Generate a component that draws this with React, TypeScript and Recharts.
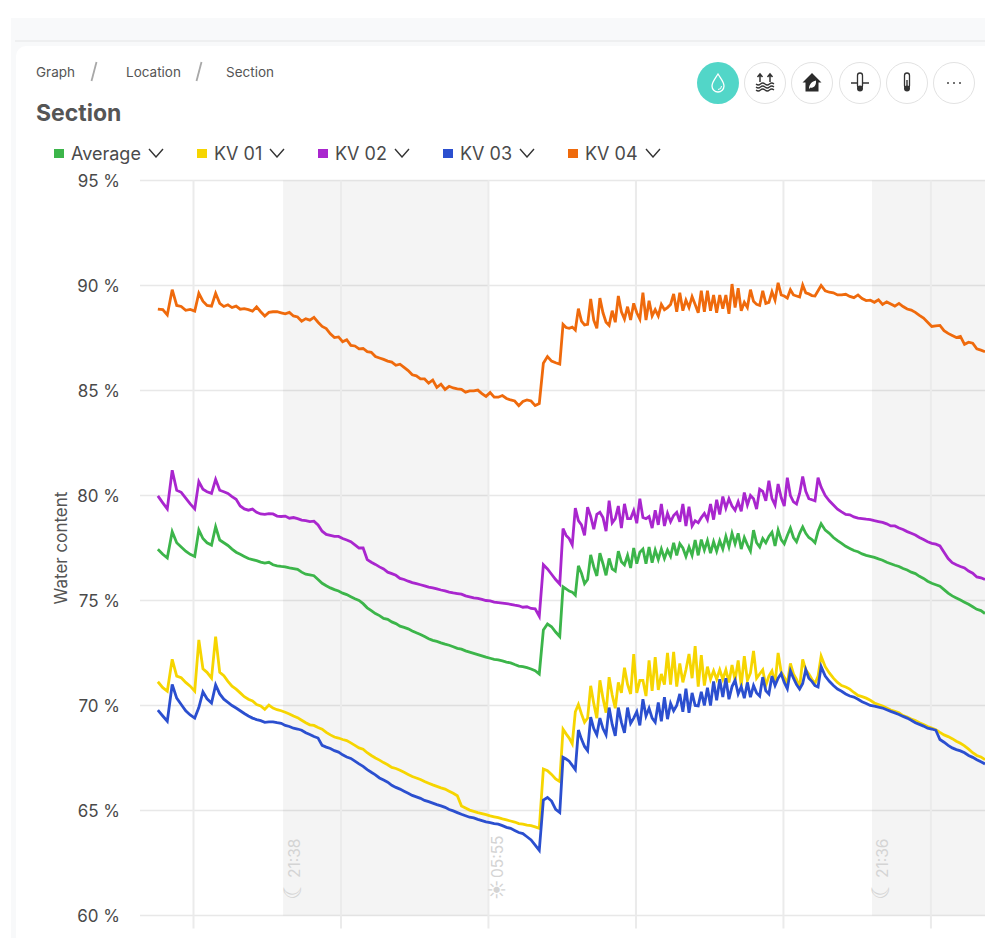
import {
  CartesianGrid,
  Legend,
  Line,
  LineChart,
  ReferenceArea,
  ReferenceLine,
  XAxis,
  YAxis,
} from 'recharts';

// minutes after the first 18:00 tick
const minutes = [
  -87, -75, -64, -52, -41, -30, -19, -8, 3, 13,
  23, 33, 44, 54, 64, 74, 84, 94, 104, 114,
  124, 134, 144, 154, 164, 174, 184, 194, 204, 214,
  224, 234, 244, 254, 264, 274, 284, 294, 304, 314,
  324, 334, 344, 354, 364, 374, 384, 394, 404, 414,
  424, 434, 444, 454, 464, 474, 484, 494, 504, 514,
  524, 534, 544, 554, 564, 574, 584, 594, 604, 614,
  624, 634, 644, 654, 664, 674, 684, 694, 704, 714,
  724, 734, 744, 754, 764, 774, 784, 794, 804, 814,
  824, 834, 844, 854, 864, 874, 884, 894,
  902, 909.5, 917, 924.5, 932, 939.5, 947, 954.5, 962, 969.5,
  977, 984.5, 992, 999.5, 1007, 1014.5, 1022, 1029.5, 1037, 1044.5,
  1052, 1059.5, 1067, 1074.5, 1082, 1089.5, 1097, 1104.5, 1112, 1119.5,
  1127, 1134.5, 1142, 1149.5, 1157, 1164.5, 1172, 1179.5, 1187, 1194.5,
  1202, 1209.5, 1217, 1224.5, 1232, 1239.5, 1247, 1254.5, 1262, 1269.5,
  1277, 1284.5, 1292, 1299.5, 1307, 1314.5, 1322, 1329.5, 1337, 1344.5,
  1352, 1359.5, 1367, 1374.5, 1382, 1389.5, 1397, 1404.5, 1412, 1419.5,
  1427, 1434.5, 1442, 1449.5, 1457, 1464.5, 1472, 1479.5, 1487, 1494.5,
  1502, 1509.5, 1517, 1524.5, 1532,
  1542, 1552, 1562, 1572, 1582, 1592, 1602, 1612, 1622, 1632,
  1642, 1652, 1662, 1672, 1682, 1692, 1702, 1712, 1722, 1732,
  1742, 1752, 1762, 1772, 1782, 1792, 1802, 1812, 1822, 1832,
  1842, 1852, 1862, 1872, 1882, 1892, 1902, 1912, 1922, 1932,
];

const average = [
  77.44, 77.2, 77.03, 78.28, 77.75, 77.55, 77.35, 77.2, 77.1, 78.36,
  77.95, 77.75, 77.64, 78.51, 77.88, 77.75, 77.62, 77.45, 77.3, 77.2,
  77.1, 77.0, 76.95, 76.9, 76.83, 76.78, 76.82, 76.7, 76.65, 76.62,
  76.6, 76.55, 76.52, 76.48, 76.35, 76.25, 76.22, 76.18, 76.0, 75.82,
  75.7, 75.6, 75.52, 75.45, 75.35, 75.28, 75.18, 75.08, 75.0, 74.85,
  74.65, 74.52, 74.38, 74.28, 74.15, 74.1, 73.98, 73.9, 73.78, 73.72,
  73.65, 73.55, 73.46, 73.38, 73.28, 73.18, 73.1, 73.05, 72.98, 72.92,
  72.87, 72.8, 72.72, 72.68, 72.6, 72.54, 72.48, 72.42, 72.36, 72.3,
  72.25, 72.2, 72.17, 72.12, 72.07, 72.03, 71.95, 71.88, 71.85, 71.8,
  71.74, 71.66, 71.5, 73.6, 73.88, 73.75, 73.5, 73.28,
  75.65, 75.55, 75.45, 75.4, 75.25, 76.65, 76.3, 75.8, 76.0, 77.17,
  76.6, 76.17, 77.25, 76.75, 76.2, 77.0, 76.5, 76.4, 77.35, 76.85,
  76.7, 77.15, 76.55, 77.5, 76.75, 77.3, 77.45, 76.75, 77.55, 76.8,
  77.4, 76.95, 77.45, 77.0, 77.4, 77.1, 77.75, 77.15, 77.7, 77.5,
  77.1, 77.55, 77.15, 77.88, 77.15, 77.9, 77.4, 77.85, 77.25, 77.8,
  77.35, 77.85, 77.45, 78.05, 77.55, 78.2, 77.7, 78.2, 77.45, 78.0,
  77.65, 77.35, 78.35, 77.75, 77.55, 77.95, 77.75, 78.05, 78.25, 77.6,
  78.35, 77.9, 77.7, 78.1, 78.45, 78.0, 77.8, 78.2, 78.5, 78.2,
  78.0, 77.9, 77.75, 78.3, 78.65,
  78.35, 78.2, 78.0, 77.85, 77.72, 77.58, 77.48, 77.38, 77.32, 77.22,
  77.15, 77.1, 77.05, 76.98, 76.92, 76.82, 76.75, 76.68, 76.62, 76.52,
  76.45, 76.35, 76.28, 76.15, 76.05, 75.92, 75.82, 75.75, 75.68, 75.52,
  75.35, 75.22, 75.12, 75.02, 74.92, 74.82, 74.7, 74.58, 74.52, 74.38,
];

const kv01 = [
  71.13, 70.85, 70.68, 72.2, 71.4, 71.32, 71.1, 70.92, 70.68, 73.12,
  71.75, 71.58, 71.3, 73.28, 71.58, 71.42, 71.15, 70.92, 70.78, 70.6,
  70.42, 70.3, 70.22, 70.05, 69.98, 69.82, 70.02, 69.88, 69.8, 69.75,
  69.68, 69.6, 69.5, 69.42, 69.3, 69.18, 69.08, 69.05, 68.95, 68.87,
  68.72, 68.6, 68.5, 68.45, 68.38, 68.33, 68.22, 68.1, 67.98, 67.92,
  67.75, 67.62, 67.5, 67.4, 67.28, 67.18, 67.05, 67.0, 66.92, 66.82,
  66.72, 66.62, 66.55, 66.48, 66.38, 66.3, 66.22, 66.15, 66.08, 66.02,
  65.92, 65.82, 65.7, 65.22, 65.12, 65.02, 64.96, 64.9, 64.85, 64.8,
  64.74, 64.7, 64.66, 64.6, 64.55, 64.5, 64.45, 64.38, 64.35, 64.3,
  64.28, 64.22, 64.15, 66.98, 66.9, 66.72, 66.5, 66.38,
  68.87, 68.65, 68.45, 68.18, 69.7, 70.05, 69.6, 69.2, 69.4, 70.94,
  70.1, 69.4, 71.2, 70.35, 69.66, 71.35, 70.5, 69.87, 71.1, 70.6,
  71.8, 71.0, 70.55, 72.45, 70.6, 71.2, 71.2, 70.45, 72.15, 70.7,
  72.3, 70.74, 71.5, 71.0, 72.5, 71.0, 72.55, 70.9, 72.0, 71.1,
  71.7, 72.45, 71.3, 72.83, 70.9, 72.4, 70.95, 71.85, 71.25, 71.65,
  71.25, 71.7, 71.25, 71.7, 71.1, 71.93, 71.2, 72.15, 70.95, 72.35,
  71.2, 71.55, 72.6, 71.3, 71.5, 71.7, 70.95, 71.4, 71.65, 71.05,
  72.5, 71.6, 71.35, 71.05, 72.0, 71.5, 71.25, 70.85, 72.2, 71.7,
  71.5, 71.25, 71.05, 71.4, 72.35,
  71.85, 71.55, 71.3, 71.1, 70.95, 70.88, 70.78, 70.62, 70.48, 70.42,
  70.35, 70.25, 70.12, 70.05, 69.98, 69.88, 69.78, 69.72, 69.65, 69.52,
  69.45, 69.36, 69.28, 69.18, 69.1, 69.0, 68.93, 68.85, 68.72, 68.6,
  68.52, 68.42, 68.3, 68.2, 68.08, 67.92, 67.75, 67.62, 67.55, 67.42,
];

const kv02 = [
  79.98, 79.65, 79.36, 81.2, 80.25, 80.15, 79.88, 79.6, 79.36, 80.66,
  80.3, 80.18, 80.1, 80.77, 80.25, 80.18, 80.1, 79.95, 79.82, 79.5,
  79.36, 79.3, 79.35, 79.2, 79.12, 79.1, 79.14, 79.12, 79.02, 79.0,
  79.02, 78.92, 78.95, 78.9, 78.83, 78.8, 78.76, 78.78, 78.6, 78.3,
  78.15, 78.1, 78.05, 78.05, 77.95, 77.88, 77.8, 77.65, 77.5, 77.5,
  76.95, 76.82, 76.72, 76.6, 76.5, 76.35, 76.28, 76.2, 76.05, 76.0,
  75.92, 75.85, 75.8, 75.75, 75.7, 75.64, 75.6, 75.55, 75.5, 75.46,
  75.4, 75.36, 75.33, 75.3, 75.22, 75.17, 75.12, 75.1, 75.05, 75.0,
  74.98, 74.92, 74.9, 74.88, 74.85, 74.82, 74.78, 74.75, 74.68, 74.7,
  74.62, 74.6, 74.25, 76.7, 76.5, 76.25, 76.0, 75.78,
  78.42, 78.1, 77.95, 77.65, 79.4, 78.8, 78.6, 78.1, 79.44, 79.0,
  78.4, 79.1, 79.2, 78.95, 78.3, 79.75, 78.7, 78.9, 79.5, 78.45,
  79.6, 78.9, 78.9, 79.28, 78.68, 79.85, 78.95, 78.9, 79.0, 78.45,
  79.3, 78.6, 79.6, 78.55, 79.15, 78.75, 79.05, 79.2, 78.75, 79.6,
  78.55, 79.47, 78.55, 78.8, 78.7, 78.95, 79.15, 78.85, 79.6, 78.85,
  79.8, 79.1, 79.95, 79.4, 79.85, 79.5, 79.3, 79.7, 79.25, 80.14,
  79.55, 80.0, 79.85, 79.35, 80.3, 80.2, 79.75, 80.7, 79.85, 79.55,
  80.55, 79.9, 79.5, 80.85, 80.0, 79.7, 79.6, 80.1, 80.9, 80.2,
  79.85, 79.8, 79.75, 80.85, 80.4,
  80.0, 79.75, 79.55, 79.35, 79.22, 79.1, 79.08, 78.98, 78.92, 78.9,
  78.87, 78.85, 78.8, 78.76, 78.72, 78.65, 78.55, 78.55, 78.45, 78.38,
  78.28, 78.2, 78.12, 78.0, 77.9, 77.8, 77.72, 77.68, 77.6, 77.3,
  77.0, 76.8, 76.7, 76.62, 76.55, 76.4, 76.3, 76.12, 76.08, 76.0,
];

const kv03 = [
  69.78, 69.5, 69.25, 71.0, 70.35, 70.05, 69.75, 69.55, 69.4, 69.9,
  70.65, 70.32, 70.12, 70.98, 70.55, 70.3, 70.15, 70.0, 69.88, 69.75,
  69.62, 69.5, 69.4, 69.33, 69.28, 69.2, 69.22, 69.22, 69.18, 69.15,
  69.05, 69.0, 68.92, 68.88, 68.82, 68.7, 68.62, 68.52, 68.45, 68.1,
  68.02, 67.95, 67.85, 67.78, 67.65, 67.55, 67.48, 67.35, 67.22, 67.1,
  66.95, 66.82, 66.7, 66.55, 66.45, 66.35, 66.2, 66.1, 66.02, 65.92,
  65.82, 65.72, 65.65, 65.58, 65.48, 65.42, 65.35, 65.28, 65.22, 65.15,
  65.05, 64.98, 64.9, 64.82, 64.75, 64.68, 64.65, 64.58, 64.52, 64.46,
  64.42, 64.38, 64.35, 64.28, 64.2, 64.15, 64.05, 63.95, 63.9, 63.75,
  63.6, 63.35, 63.1, 65.5, 65.62, 65.45, 65.05, 64.9,
  67.53, 67.45, 67.35, 67.15, 66.95, 68.83, 68.4, 68.05, 67.85, 69.45,
  68.9, 68.6, 69.4, 68.9, 68.6, 69.9, 69.1, 68.55, 69.9, 69.2,
  68.7, 69.9, 69.15, 69.4, 69.7, 69.05, 70.3, 69.5, 69.87, 69.4,
  69.2, 70.15, 69.25, 70.4, 69.35, 70.1, 69.75, 70.0, 70.55, 69.7,
  70.8, 69.65, 70.6, 70.0, 69.98, 70.65, 70.0, 70.85, 70.0, 71.15,
  70.25, 71.25, 70.4, 71.3, 70.3, 70.9, 71.2, 70.55, 70.9, 70.35,
  71.1, 70.4, 70.95, 70.6, 70.45, 71.35, 70.7, 70.55, 71.4, 70.95,
  71.3, 71.52, 71.1, 70.8, 71.65, 71.3, 71.0, 70.78, 71.05, 71.7,
  71.3, 71.15, 70.95, 70.88, 71.85,
  71.4, 71.15, 70.95, 70.78, 70.68, 70.55, 70.45, 70.4, 70.3, 70.18,
  70.1, 70.0, 69.97, 69.92, 69.88, 69.8, 69.72, 69.65, 69.57, 69.48,
  69.4, 69.3, 69.18, 69.1, 69.02, 68.92, 68.88, 68.82, 68.38, 68.25,
  68.1, 67.98, 67.9, 67.84, 67.75, 67.62, 67.53, 67.42, 67.32, 67.22,
];

const kv04 = [
  88.88, 88.85, 88.6, 89.8, 89.05, 89.0, 88.82, 88.86, 88.78, 89.63,
  89.25, 89.05, 89.02, 89.63, 89.15, 89.0, 89.08, 88.95, 89.02, 88.87,
  88.9, 88.85, 88.78, 88.98, 88.75, 88.55, 88.72, 88.75, 88.75, 88.7,
  88.65, 88.72, 88.55, 88.5, 88.3, 88.42, 88.35, 88.48, 88.25, 88.05,
  87.95, 87.7, 87.52, 87.55, 87.32, 87.42, 87.15, 87.12, 86.98, 87.0,
  86.85, 86.82, 86.62, 86.55, 86.48, 86.4, 86.35, 86.2, 86.25, 86.1,
  85.95, 85.75, 85.7, 85.55, 85.55, 85.35, 85.5, 85.15, 85.3, 85.05,
  85.2, 85.12, 85.08, 85.05, 84.92, 84.98, 84.98, 85.02, 84.85, 84.72,
  84.9, 84.68, 84.68, 84.76, 84.62, 84.55, 84.5, 84.28, 84.48, 84.55,
  84.5, 84.28, 84.38, 86.3, 86.62, 86.4, 86.32, 86.26,
  88.15, 88.0, 87.96, 88.02, 87.88, 88.9, 88.3, 88.12, 88.15, 89.36,
  88.35, 87.96, 89.4, 88.7, 88.25, 88.1, 88.8, 88.25, 89.5, 88.75,
  88.4, 88.99, 88.36, 89.15, 88.7, 88.4, 89.66, 88.35, 89.27, 88.55,
  88.85, 88.55, 89.1, 88.85, 88.95, 89.1, 89.6, 88.75, 89.66, 88.8,
  89.3, 88.95, 89.47, 89.1, 88.7, 89.75, 88.75, 89.75, 88.8, 89.55,
  88.7, 89.55, 88.9, 89.55, 88.65, 90.07, 88.95, 89.87, 88.8, 89.2,
  88.95, 89.8, 89.25, 89.1, 89.05, 89.75, 89.15, 89.2, 89.7, 89.3,
  90.13, 89.55, 89.5, 89.4, 89.8, 89.55, 89.5, 89.45, 90.02, 89.65,
  89.6, 89.52, 89.5, 89.75, 90.0,
  89.75, 89.68, 89.65, 89.55, 89.55, 89.58, 89.48, 89.42, 89.55, 89.38,
  89.28, 89.3, 89.2, 89.32, 89.1, 89.22, 89.12, 89.02, 89.15, 89.0,
  88.88, 88.83, 88.72, 88.58, 88.45, 88.25, 88.05, 88.08, 88.1, 87.85,
  87.72, 87.62, 87.52, 87.58, 87.2, 87.3, 87.25, 86.98, 86.92, 86.85,
];

const yTicks = [60, 65, 70, 75, 80, 85, 90, 95];
const xTicks = [0, 360, 720, 1080, 1440, 1800];

const chartData = minutes.map((t, i) => ({
  t,
  average: average[i],
  kv01: kv01[i],
  kv02: kv02[i],
  kv03: kv03[i],
  kv04: kv04[i],
}));

const textColor = '#4a4a4a';
const legendLeft = [54, 197, 318, 443, 568];

function Chevron() {
  return (
    <svg width="16" height="10" viewBox="0 0 16 10" style={{ display: 'block' }}>
      <path d="M1 1 L8 9 L15 1" fill="none" stroke="#333" strokeWidth="1.4" />
    </svg>
  );
}

function LegendRow({ payload }: any) {
  return (
    <div style={{ position: 'absolute', left: 0, top: 0, width: 0, height: 0 }}>
      {(payload || []).map((entry: any, i: number) => (
        <div
          key={entry.value}
          style={{
            position: 'absolute',
            left: legendLeft[i],
            top: 140,
            height: 26,
            display: 'flex',
            alignItems: 'center',
            whiteSpace: 'nowrap',
            fontSize: 18,
            color: textColor,
          }}
        >
          <span style={{ width: 10, height: 9, background: entry.color, marginRight: 7, flex: 'none' }} />
          <span style={{ marginRight: 7 }}>{entry.value}</span>
          <Chevron />
        </div>
      ))}
    </div>
  );
}

const noTick = () => <g />;

// rotated sunset / sunrise note, the glyph sits below the time
const sunLabel = (glyph: string, time: string, shift: number, glyphSize: number) => (props: any) => {
  const x = props.viewBox.x + shift;
  return (
    <g fill="#d4d4d4" fontFamily="Inter, sans-serif">
      <text x={x} y={878} transform={`rotate(-90 ${x} 878)`} fontSize={15.5}>
        {time}
      </text>
      <text x={x + 1} y={900} transform={`rotate(-90 ${x + 1} 900)`} fontSize={glyphSize}>
        {glyph}
      </text>
    </g>
  );
};

function RoundIcon({ children, active }: { children: any; active?: boolean }) {
  return (
    <svg width="42" height="42" viewBox="0 0 42 42" style={{ display: 'block' }}>
      <circle
        cx="21"
        cy="21"
        r={active ? 21 : 20.5}
        fill={active ? '#52d6c8' : '#fff'}
        stroke={active ? 'none' : '#e2e2e2'}
      />
      {children}
    </svg>
  );
}

const iconCenters = [718, 765, 812, 860, 907, 954];

const icons = [
  <RoundIcon active key="drop">
    <path
      d="M21 12 C18 17 15 20 15 24 A6 6 0 0 0 27 24 C27 20 24 17 21 12 Z"
      fill="none"
      stroke="#fff"
      strokeWidth="1.3"
    />
    <path d="M24.5 24 A3.5 3.5 0 0 1 21 27.5" fill="none" stroke="#fff" strokeWidth="1" />
  </RoundIcon>,
  <RoundIcon key="level">
    <path
      d="M16 20 V12 M13.5 15 L16 12 L18.500 15 M26 20 V12 M23.500 15 L26 12 L28.500 15"
      fill="none"
      stroke="#333"
      strokeWidth="1.5"
    />
    <path
      d="M12 22 q2.300 2 4.500 0 t4.500 0 t4.500 0 t4.500 0 M12 25 q2.300 2 4.500 0 t4.500 0 t4.500 0 t4.500 0 M12 28 q2.300 2 4.500 0 t4.500 0 t4.500 0 t4.500 0"
      fill="none"
      stroke="#333"
      strokeWidth="1.2"
    />
  </RoundIcon>,
  <RoundIcon key="house">
    <path d="M21 11 L30.500 20.500 L27.500 20.500 V29.500 H14.500 V20.500 L11.500 20.500 Z" fill="#2b2b2b" />
    <path d="M18 27 C18 22 21 19.500 25 18.500 C25.500 23 23 26.500 19.500 25.500 Z" fill="#fff" />
  </RoundIcon>,
  <RoundIcon key="soil">
    <path d="M12 21 H30" stroke="#333" strokeWidth="1.5" />
    <rect x="18.500" y="11" width="5" height="15" rx="2.500" fill="#fff" stroke="#333" strokeWidth="1.3" />
    <circle cx="21" cy="26.500" r="3" fill="#333" />
  </RoundIcon>,
  <RoundIcon key="air">
    <rect x="18.500" y="11" width="5" height="15" rx="2.500" fill="#fff" stroke="#333" strokeWidth="1.3" />
    <rect x="20.300" y="18" width="1.400" height="8" fill="#333" />
    <circle cx="21" cy="26.500" r="3" fill="#333" />
  </RoundIcon>,
  <RoundIcon key="more">
    <circle cx="15" cy="21" r="1" fill="#444" />
    <circle cx="21" cy="21" r="1" fill="#444" />
    <circle cx="27" cy="21" r="1" fill="#444" />
  </RoundIcon>,
];

function Crumb({ left, text }: { left: number; text: string }) {
  return (
    <div style={{ position: 'absolute', left, top: 63, fontSize: 13.5, lineHeight: '18px', color: '#555' }}>
      {text}
    </div>
  );
}

function Slash({ left }: { left: number }) {
  return (
    <svg width="10" height="22" style={{ position: 'absolute', left, top: 61 }}>
      <path d="M7.500 1 L2.500 20" stroke="#a8a8a8" strokeWidth="1.8" />
    </svg>
  );
}

export default function App() {
  return (
    <div
      style={{
        position: 'absolute',
        left: 0,
        top: 0,
        width: 1005,
        height: 938,
        overflow: 'hidden',
        background: '#fff',
        fontFamily: 'Inter, sans-serif',
      }}
    >
      <div style={{ position: 'absolute', left: 11, top: 18, width: 974, height: 920, background: '#f8f9fa' }} />
      <div style={{ position: 'absolute', left: 15, top: 40, width: 970, height: 2, background: '#eeeff0' }} />
      <div
        style={{
          position: 'absolute',
          left: 16,
          top: 46,
          width: 969,
          height: 892,
          background: '#fff',
          borderTopLeftRadius: 10,
        }}
      />

      <Crumb left={36} text="Graph" />
      <Slash left={89} />
      <Crumb left={126} text="Location" />
      <Slash left={194} />
      <Crumb left={226} text="Section" />
      <div
        style={{
          position: 'absolute',
          left: 36,
          top: 98,
          fontSize: 23,
          lineHeight: '30px',
          fontWeight: 700,
          color: '#555',
        }}
      >
        Section
      </div>

      {icons.map((icon, i) => (
        <div key={i} style={{ position: 'absolute', left: iconCenters[i] - 21, top: 62 }}>
          {icon}
        </div>
      ))}

      <div style={{ position: 'absolute', left: 0, top: 0 }}>
        <LineChart
          width={985}
          height={938}
          data={chartData}
          margin={{ top: 180.5, right: 0, bottom: 0, left: 0 }}
        >
          <CartesianGrid horizontal vertical={false} stroke="#e8e8e8" strokeWidth={1.5} />
          <ReferenceArea x1={218.5} x2={719} y1={60} y2={95} fill="#000" fillOpacity={0.045} stroke="none" />
          <ReferenceArea x1={1656} x2={1932} y1={60} y2={95} fill="#000" fillOpacity={0.045} stroke="none" />
          {xTicks.map((t) => (
            <ReferenceLine key={t} x={t} stroke="#ebebeb" strokeWidth={2} />
          ))}
          <ReferenceLine x={218.5} stroke="none" label={sunLabel('☾', '21:38', 16.5, 24)} />
          <ReferenceLine x={719} stroke="none" label={sunLabel('☀', '05:55', 15, 19)} />
          <ReferenceLine x={1656} stroke="none" label={sunLabel('☾', '21:36', 16, 24)} />
          <XAxis
            dataKey="t"
            type="number"
            domain={[-130.6, 1932]}
            ticks={xTicks}
            height={22.5}
            axisLine={false}
            tickLine={{ stroke: '#ebebeb', strokeWidth: 2 }}
            tickSize={13}
            tick={noTick}
          />
          <YAxis
            type="number"
            domain={[60, 95]}
            ticks={yTicks}
            width={140}
            axisLine={false}
            tickLine={false}
            tickMargin={14}
            tickFormatter={(v) => `${v} %`}
            tick={{ fill: textColor, fontSize: 17 }}
            label={{
              value: 'Water content',
              angle: -90,
              position: 'insideLeft',
              offset: 61,
              textAnchor: 'middle',
              fill: '#555',
              fontSize: 17,
            }}
          />
          <Legend content={LegendRow} wrapperStyle={{ position: 'absolute', left: 0, top: 0, width: 0, height: 0 }} />
          <Line name="Average" dataKey="average" stroke="#3cb54a" strokeWidth={2.8} dot={false} isAnimationActive={false} />
          <Line name="KV 01" dataKey="kv01" stroke="#f6d500" strokeWidth={2.8} dot={false} isAnimationActive={false} />
          <Line name="KV 02" dataKey="kv02" stroke="#a926ce" strokeWidth={2.8} dot={false} isAnimationActive={false} />
          <Line name="KV 03" dataKey="kv03" stroke="#2b4fcf" strokeWidth={2.8} dot={false} isAnimationActive={false} />
          <Line name="KV 04" dataKey="kv04" stroke="#ef6a0c" strokeWidth={2.8} dot={false} isAnimationActive={false} />
        </LineChart>
      </div>
    </div>
  );
}
